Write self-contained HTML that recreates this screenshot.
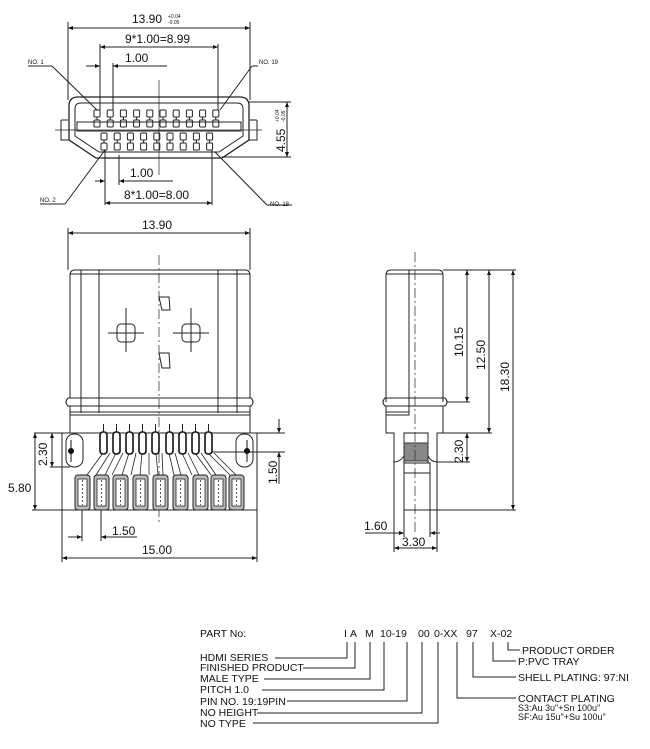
<!DOCTYPE html>
<html><head><meta charset="utf-8"><style>
html,body{margin:0;padding:0;background:#fff;}
svg{display:block;}
text{font-family:"Liberation Sans",Arial,sans-serif;fill:#111;}
</style></head><body>
<svg width="650" height="749" viewBox="0 0 650 749" xmlns="http://www.w3.org/2000/svg">
<defs>
<marker id="a" viewBox="0 0 10 10" refX="10" refY="5" markerWidth="7" markerHeight="5" orient="auto-start-reverse"><path d="M0,1 L10,5 L0,9 Z" fill="#111"/></marker>
<g id="tp"><rect x="0" y="0" width="6" height="7" rx="1" fill="none" stroke="#222" stroke-width="1"/><rect x="0" y="10" width="6" height="7" rx="1" fill="none" stroke="#222" stroke-width="1"/><line x1="3" y1="7" x2="3" y2="10" stroke="#222"/></g>
<g id="pad"><rect x="0" y="0" width="15" height="35" rx="3" fill="#bbb" stroke="#222"/><rect x="3" y="4" width="9" height="27" fill="#fff" stroke="#222" stroke-width="0.8"/><line x1="7.5" y1="5" x2="7.5" y2="30" stroke="#555" stroke-dasharray="2,2"/></g>
<g id="slot"><rect x="0" y="0" width="7" height="22" rx="3" fill="#fff" stroke="#111" stroke-width="1.6"/><line x1="3.5" y1="-8" x2="3.5" y2="0" stroke="#222"/></g>
</defs>
<g stroke="#222" stroke-width="1" fill="none">
<!-- TOP VIEW -->
<line x1="68" y1="22" x2="68" y2="100"/><line x1="250" y1="22" x2="250" y2="100"/>
<line x1="68" y1="28" x2="250" y2="28" marker-start="url(#a)" marker-end="url(#a)"/>
<line x1="100" y1="44" x2="100" y2="110"/><line x1="218" y1="44" x2="218" y2="110"/>
<line x1="100" y1="47" x2="218" y2="47" marker-start="url(#a)" marker-end="url(#a)"/>
<line x1="113" y1="63" x2="113" y2="110"/>
<line x1="86" y1="66" x2="100" y2="66" marker-end="url(#a)"/><line x1="113" y1="66" x2="167" y2="66" marker-start="url(#a)"/>
<line x1="28" y1="66" x2="52" y2="66"/><line x1="52" y1="66" x2="97" y2="110"/>
<line x1="258" y1="66" x2="252" y2="66"/><line x1="252" y1="66" x2="220" y2="110"/>
<path d="M78,97 H240 Q249,97 249,106 V140 L222,158 H96 L69,140 V106 Q69,97 78,97 Z" stroke-width="1.3"/>
<path d="M81,103 H237 Q243,103 243,109 V136 L219,152 H99 L75,136 V109 Q75,103 81,103 Z"/>
<rect x="77" y="122" width="164" height="9"/>
<path d="M61,120 H68 M61,120 V140 H69 M257,120 H250 M257,120 V140 H249"/>
<line x1="55" y1="130" x2="262" y2="130" stroke-width="0.7"/>
<line x1="159" y1="80" x2="159" y2="175" stroke-width="0.7"/>
<line x1="248" y1="102" x2="291" y2="102"/><line x1="222" y1="157" x2="291" y2="157"/>
<line x1="287" y1="102" x2="287" y2="157" marker-start="url(#a)" marker-end="url(#a)"/>
<line x1="105" y1="150" x2="105" y2="205"/><line x1="212" y1="150" x2="212" y2="205"/>
<line x1="119" y1="155" x2="119" y2="185"/>
<line x1="95" y1="181" x2="105" y2="181" marker-end="url(#a)"/><line x1="119" y1="181" x2="173" y2="181" marker-start="url(#a)"/>
<line x1="105" y1="203" x2="212" y2="203" marker-start="url(#a)" marker-end="url(#a)"/>
<line x1="40" y1="204" x2="65" y2="204"/><line x1="65" y1="204" x2="105" y2="150"/>
<line x1="292" y1="205" x2="267" y2="205"/><line x1="267" y1="205" x2="215" y2="152"/>
</g>
<g>
<use href="#tp" x="94" y="110"/><use href="#tp" x="107.2" y="110"/><use href="#tp" x="120.4" y="110"/><use href="#tp" x="133.6" y="110"/><use href="#tp" x="146.8" y="110"/><use href="#tp" x="160" y="110"/><use href="#tp" x="173.2" y="110"/><use href="#tp" x="186.4" y="110"/><use href="#tp" x="199.6" y="110"/><use href="#tp" x="212.8" y="110"/>
<use href="#tp" x="101" y="133"/><use href="#tp" x="114.2" y="133"/><use href="#tp" x="127.4" y="133"/><use href="#tp" x="140.6" y="133"/><use href="#tp" x="153.8" y="133"/><use href="#tp" x="167" y="133"/><use href="#tp" x="180.2" y="133"/><use href="#tp" x="193.4" y="133"/><use href="#tp" x="206.6" y="133"/>
</g>
<text x="132" y="23" font-size="12">13.90</text><text x="168" y="18" font-size="5">+0.04</text><text x="168" y="24" font-size="5">-0.05</text>
<text x="125" y="43" font-size="12">9*1.00=8.99</text>
<text x="125" y="62" font-size="12">1.00</text>
<text x="28" y="64" font-size="6">NO. 1</text>
<text x="259" y="64" font-size="6">NO. 19</text>
<text transform="translate(285,152) rotate(-90)" font-size="12">4.55</text>
<text transform="translate(279,122) rotate(-90)" font-size="5">+0.04</text><text transform="translate(285,122) rotate(-90)" font-size="5">-0.05</text>
<text x="130" y="177" font-size="12">1.00</text>
<text x="124" y="199" font-size="12">8*1.00=8.00</text>
<text x="40" y="202" font-size="6">NO. 2</text>
<text x="270" y="206" font-size="6">NO. 18</text>

<!-- FRONT VIEW -->
<g stroke="#222" stroke-width="1" fill="none">
<line x1="68" y1="228" x2="68" y2="270"/><line x1="250" y1="228" x2="250" y2="270"/>
<line x1="68" y1="233" x2="250" y2="233" marker-start="url(#a)" marker-end="url(#a)"/>
<path d="M70,275 Q70,270 75,270 H245 Q250,270 250,275 V398 M70,275 V398"/>
<line x1="70" y1="274" x2="250" y2="274"/>
<line x1="81" y1="270" x2="81" y2="413"/><line x1="99" y1="270" x2="99" y2="413"/>
<line x1="218" y1="270" x2="218" y2="413"/><line x1="237" y1="270" x2="237" y2="413"/>
<path d="M68,398 H251 Q255,402 251,406 H68 Q64,402 68,398 Z"/>
<path d="M70,406 V415 H250 V406"/><line x1="70" y1="412" x2="250" y2="412"/>
<line x1="159" y1="255" x2="159" y2="525" stroke-width="0.7" stroke-dasharray="10,3,2,3"/>
<path d="M159,297 H169 L170,310 H162 Z"/><path d="M159,353 H169 L170,368 H162 Z"/>
<rect x="117" y="324" width="18" height="18" rx="4"/><line x1="108" y1="333" x2="144" y2="333"/><line x1="126" y1="308" x2="126" y2="352"/>
<rect x="182" y="324" width="18" height="18" rx="4"/><line x1="173" y1="333" x2="209" y2="333"/><line x1="191" y1="308" x2="191" y2="352"/>
<rect x="62" y="433" width="195" height="77"/>
<line x1="70" y1="415" x2="70" y2="433"/><line x1="250" y1="415" x2="250" y2="433"/>
<rect x="66" y="434" width="17" height="33" rx="8"/><rect x="236" y="434" width="17" height="33" rx="8"/>
<path d="M103,453 L87,475 M110,453 L96,475 M116,453 L105,475 M123,453 L112,475 M129,453 L122,475 M136,453 L131,475 M142,453 L140,475 M149,453 L149,475 M156,453 L158,475 M162,453 L163,475 M169,453 L174,475 M175,453 L181,475 M182,453 L192,475 M188,453 L199,475 M195,453 L211,475 M201,453 L216,475 M208,453 L230,475 M214,453 L236,475" stroke-width="0.8"/>
<line x1="50" y1="433" x2="62" y2="433"/><line x1="50" y1="467" x2="70" y2="467"/>
<line x1="52" y1="433" x2="52" y2="467" marker-start="url(#a)" marker-end="url(#a)"/>
<line x1="32" y1="510" x2="62" y2="510"/><line x1="34" y1="433" x2="50" y2="433"/>
<line x1="35" y1="433" x2="35" y2="510" marker-start="url(#a)" marker-end="url(#a)"/>
<line x1="212" y1="433" x2="285" y2="433"/><line x1="212" y1="452" x2="285" y2="452"/>
<line x1="279" y1="419" x2="279" y2="433" marker-end="url(#a)"/><line x1="279" y1="484" x2="279" y2="452" marker-end="url(#a)"/>
<line x1="82" y1="510" x2="82" y2="541"/><line x1="101" y1="510" x2="101" y2="541"/>
<line x1="68" y1="537" x2="82" y2="537" marker-end="url(#a)"/><line x1="137" y1="537" x2="101" y2="537" marker-end="url(#a)"/>
<line x1="62" y1="510" x2="62" y2="562"/><line x1="257" y1="510" x2="257" y2="562"/>
<line x1="62" y1="558" x2="257" y2="558" marker-start="url(#a)" marker-end="url(#a)"/>
</g>
<circle cx="71" cy="451" r="3" fill="#111"/><line x1="71" y1="440" x2="71" y2="462" stroke="#111"/>
<circle cx="247" cy="451" r="3" fill="#111"/><line x1="247" y1="440" x2="247" y2="462" stroke="#111"/>
<use href="#slot" x="100" y="432"/><use href="#slot" x="113" y="432"/><use href="#slot" x="126" y="432"/><use href="#slot" x="139" y="432"/><use href="#slot" x="152" y="432"/><use href="#slot" x="166" y="432"/><use href="#slot" x="179" y="432"/><use href="#slot" x="192" y="432"/><use href="#slot" x="205" y="432"/>
<use href="#pad" x="75" y="475"/><use href="#pad" x="94" y="475"/><use href="#pad" x="113" y="475"/><use href="#pad" x="133" y="475"/><use href="#pad" x="153" y="475"/><use href="#pad" x="173" y="475"/><use href="#pad" x="193" y="475"/><use href="#pad" x="211" y="475"/><use href="#pad" x="229" y="475"/>
<text x="142" y="229" font-size="12">13.90</text>
<text transform="translate(47,466) rotate(-90)" font-size="12">2.30</text>
<text x="8" y="492" font-size="12">5.80</text>
<text transform="translate(277,484) rotate(-90)" font-size="12">1.50</text>
<text x="112" y="535" font-size="12">1.50</text>
<text x="142" y="554" font-size="12">15.00</text>

<!-- SIDE VIEW -->
<g stroke="#222" stroke-width="1" fill="none">
<path d="M386,402 V275 Q386,270 391,270 H438 Q443,270 443,275 V402"/>
<line x1="386" y1="274" x2="443" y2="274"/>
<line x1="409" y1="270" x2="409" y2="412"/>
<path d="M385,398 H445 Q449,402 445,406 H385 Q381,402 385,398 Z"/>
<path d="M386,406 V433 H394 V462 M443,406 V433 H437 V462"/>
<path d="M386,412 H409 V415 H386"/>
<rect x="404" y="433" width="24" height="30" fill="#fff"/>
<rect x="404" y="443" width="24" height="18" fill="#888" stroke="#333"/>
<path d="M394,462 Q400,462 404,456 M437,462 Q431,462 428,456"/>
<rect x="404" y="463" width="26" height="47"/><line x1="404" y1="473" x2="430" y2="473"/>
<line x1="415" y1="252" x2="415" y2="535" stroke-width="0.7" stroke-dasharray="10,3,2,3"/>
<line x1="443" y1="270" x2="516" y2="270"/>
<line x1="447" y1="402" x2="470" y2="402"/><line x1="443" y1="433" x2="492" y2="433"/>
<line x1="437" y1="462" x2="470" y2="462"/><line x1="430" y1="510" x2="516" y2="510"/>
<line x1="467" y1="270" x2="467" y2="402" marker-start="url(#a)" marker-end="url(#a)"/>
<line x1="489" y1="270" x2="489" y2="433" marker-start="url(#a)" marker-end="url(#a)"/>
<line x1="513" y1="270" x2="513" y2="510" marker-start="url(#a)" marker-end="url(#a)"/>
<line x1="467" y1="433" x2="467" y2="462" marker-start="url(#a)" marker-end="url(#a)"/>
<line x1="404" y1="510" x2="404" y2="537"/><line x1="430" y1="510" x2="430" y2="537"/>
<line x1="394" y1="462" x2="394" y2="552"/><line x1="437" y1="462" x2="437" y2="552"/>
<line x1="365" y1="533" x2="404" y2="533" marker-end="url(#a)"/><line x1="440" y1="533" x2="430" y2="533" marker-end="url(#a)"/>
<line x1="394" y1="548" x2="437" y2="548" marker-start="url(#a)" marker-end="url(#a)"/>
</g>
<text transform="translate(463,357) rotate(-90)" font-size="12">10.15</text>
<text transform="translate(485,370) rotate(-90)" font-size="12">12.50</text>
<text transform="translate(509,392) rotate(-90)" font-size="12">18.30</text>
<text transform="translate(463,463) rotate(-90)" font-size="12">2.30</text>
<text x="364" y="530" font-size="12">1.60</text>
<text x="402" y="546" font-size="12">3.30</text>

<!-- PART NO -->
<g font-size="10.5">
<text x="200" y="637">PART No:</text>
<text x="344" y="637">I</text><text x="350" y="637">A</text><text x="365" y="637">M</text>
<text x="380" y="637">10-19</text><text x="418" y="637">00</text><text x="434" y="637">0-XX</text>
<text x="466" y="637">97</text><text x="490" y="637">X-02</text>
<text x="200" y="661">HDMI SERIES</text>
<text x="200" y="671">FINISHED PRODUCT</text>
<text x="200" y="682">MALE TYPE</text>
<text x="200" y="693">PITCH 1.0</text>
<text x="200" y="705">PIN NO. 19:19PIN</text>
<text x="200" y="716">NO HEIGHT</text>
<text x="200" y="727">NO TYPE</text>
<text x="522" y="654">PRODUCT ORDER</text>
<text x="518" y="665">P:PVC TRAY</text>
<text x="518" y="681">SHELL PLATING: 97:NI</text>
<text x="518" y="702">CONTACT PLATING</text>
</g>
<g font-size="9"><text x="518" y="711">S3:Au 3u"+Sn 100u"</text><text x="518" y="720">SF:Au 15u"+Su 100u"</text></g>
<g stroke="#222" stroke-width="1" fill="none">
<path d="M275,658 H347 V642"/>
<path d="M303,668 H355 V642"/>
<path d="M264,679 H370 V642"/>
<path d="M262,690 H384 V642"/>
<path d="M287,701 H407 V642"/>
<path d="M257,713 H422 V642"/>
<path d="M253,723 H438 V642"/>
<path d="M457,642 V698 H516"/>
<path d="M473,642 V677 H516"/>
<path d="M493,642 V661 H516"/>
<path d="M508,642 V650 H520"/>
</g>
</svg>
</body></html>
